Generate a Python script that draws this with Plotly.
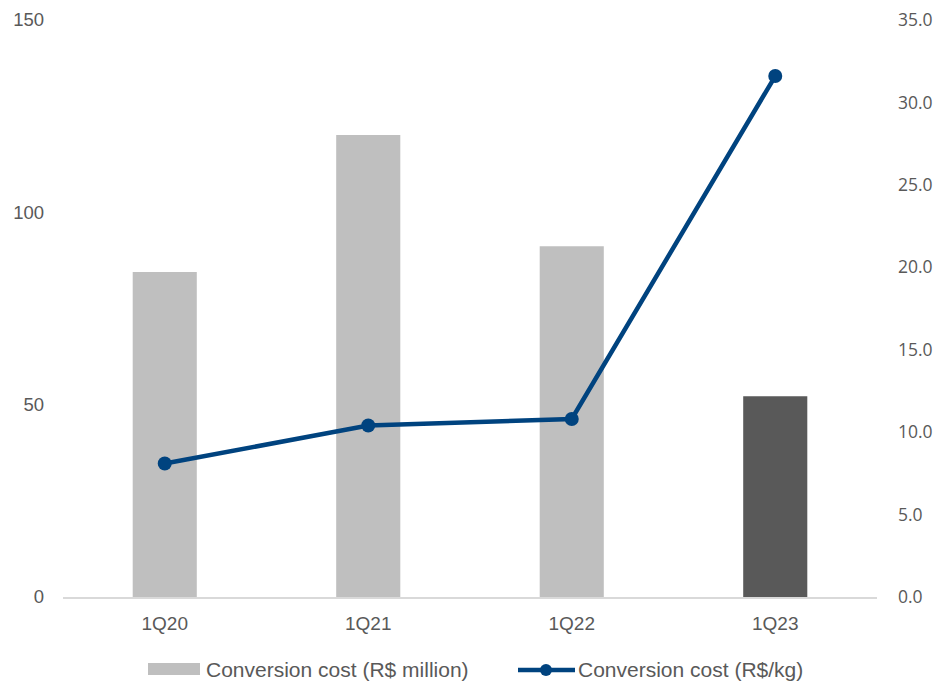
import plotly.graph_objects as go

categories = ["1Q20", "1Q21", "1Q22", "1Q23"]
cost_million = [84.5, 120.1, 91.2, 52.2]
cost_per_kg = [8.1, 10.4, 10.8, 31.6]
bar_colors = ["#BFBFBF", "#BFBFBF", "#BFBFBF", "#595959"]
legend_labels = ["Conversion cost (R$ million)", "Conversion cost (R$/kg)"]

LINE_COLOR = "#00437F"
W, H = 939, 686
L, R, T, B = 63, 62, 20, 89
pw, ph = W - L - R, H - T - B


def px(x):
    return (x - L) / pw


def py(y):
    return (H - B - y) / ph


fig = go.Figure()
fig.add_trace(go.Bar(
    x=categories, y=cost_million, name=legend_labels[0],
    marker=dict(color=bar_colors, line=dict(width=0)), width=0.315,
    yaxis="y",
))
fig.add_trace(go.Scatter(
    x=categories, y=cost_per_kg, name=legend_labels[1],
    mode="lines+markers", line=dict(color=LINE_COLOR, width=4.5),
    marker=dict(size=14, color=LINE_COLOR), yaxis="y2",
))

# custom legend (wide swatches like the original)
shapes = [
    dict(type="rect", xref="paper", yref="paper",
         x0=px(148), x1=px(200), y0=py(675), y1=py(663),
         fillcolor="#BFBFBF", line=dict(width=0)),
    dict(type="line", xref="paper", yref="paper",
         x0=px(518), x1=px(575), y0=py(670), y1=py(670),
         line=dict(color=LINE_COLOR, width=4.5)),
    dict(type="circle", xref="paper", yref="paper",
         x0=px(540), x1=px(552), y0=py(676), y1=py(664),
         fillcolor=LINE_COLOR, line=dict(width=0)),
]
annotations = [
    dict(xref="paper", yref="paper", x=px(204), y=py(669), xanchor="left",
         yanchor="middle", text=legend_labels[0], showarrow=False,
         font=dict(size=21, color="#595959")),
    dict(xref="paper", yref="paper", x=px(576), y=py(669), xanchor="left",
         yanchor="middle", text=legend_labels[1], showarrow=False,
         font=dict(size=21, color="#595959")),
]

fig.update_layout(
    width=W, height=H,
    margin=dict(l=L, r=R, t=T, b=B, autoexpand=False),
    plot_bgcolor="white", paper_bgcolor="white",
    font=dict(family="Liberation Sans, Arial", color="#595959", size=17),
    xaxis=dict(showgrid=False, showline=True, linecolor="#D9D9D9", linewidth=1.5,
               ticks="", tickfont=dict(size=19), ticklabelstandoff=8,
               automargin=False),
    yaxis=dict(range=[0, 150], tickvals=[0, 50, 100, 150], showgrid=False,
               zeroline=False, showline=False, ticks="", tickfont=dict(size=18.5),
               ticklabelstandoff=18, automargin=False),
    yaxis2=dict(range=[0, 35], tickvals=[0, 5, 10, 15, 20, 25, 30, 35],
                tickformat=".1f", overlaying="y", side="right", showgrid=False,
                zeroline=False, showline=False, ticks="",
                tickfont=dict(family="Open Sans, DejaVu Sans", size=17.5),
                ticklabelstandoff=20, automargin=False),
    shapes=shapes, annotations=annotations,
    showlegend=False,
)

fig.write_html(
    "out.html",
    config={"displayModeBar": False},
    post_script="document.body.style.margin='0';document.body.style.overflow='hidden';",
)
